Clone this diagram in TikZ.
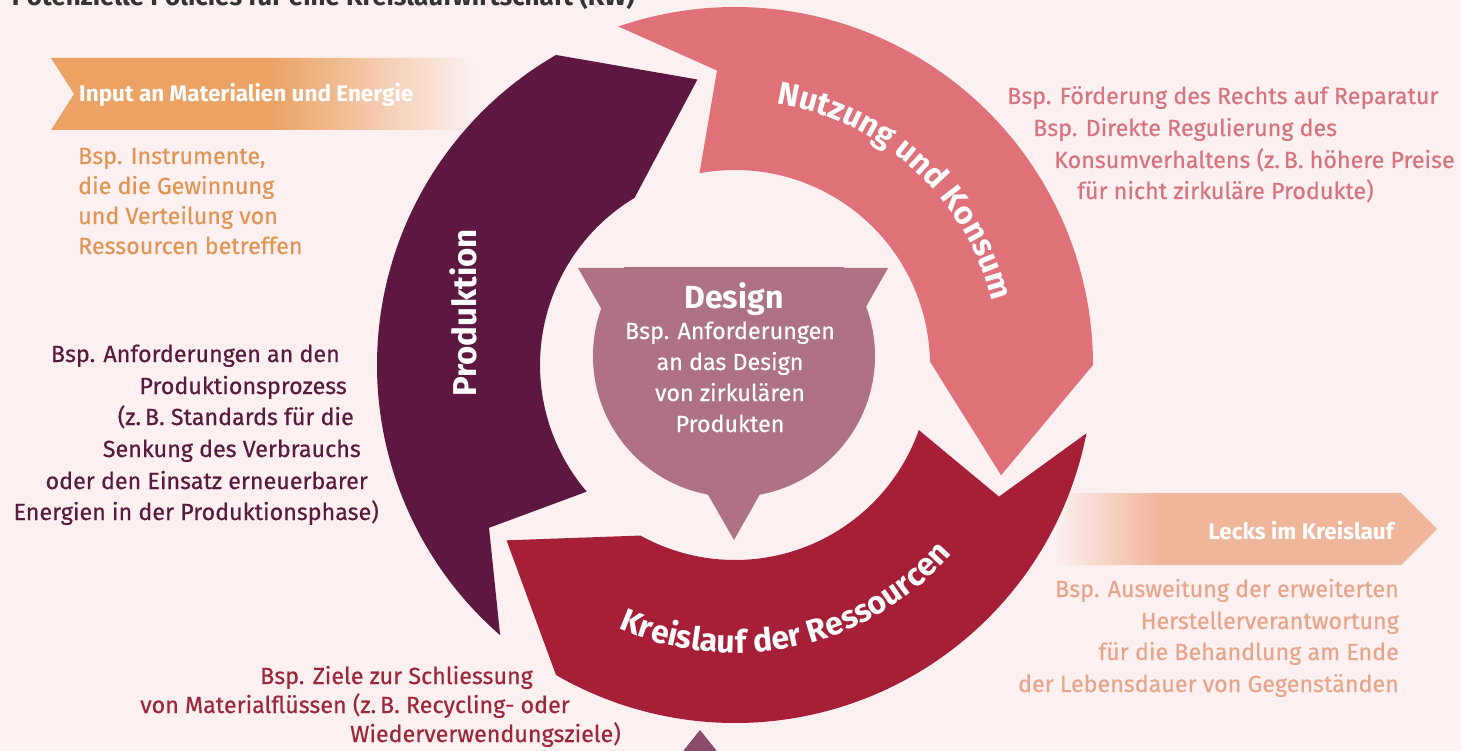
\documentclass[tikz,border=0pt]{standalone}
\usepackage{fontspec}
\setmainfont{Fira Sans}
\newfontfamily\bodyfam{Fira Sans}[FakeBold=0.4]
\usetikzlibrary{decorations.text}

\definecolor{bgpink}{RGB}{252,240,240}
\definecolor{prodcol}{RGB}{94,23,64}
\definecolor{nutzcol}{RGB}{224,113,120}
\definecolor{kreiscol}{RGB}{166,31,55}
\definecolor{designcol}{RGB}{174,114,132}
\definecolor{tricol}{RGB}{139,75,110}
\definecolor{inorange}{RGB}{235,162,99}
\definecolor{intext}{RGB}{226,149,80}
\definecolor{nutztext}{RGB}{217,115,126}
\definecolor{prodtext}{RGB}{90,26,62}
\definecolor{kreistext}{RGB}{160,38,58}
\definecolor{leckpeach}{RGB}{240,182,153}
\definecolor{lecktext}{RGB}{233,165,135}

\pgfdeclarehorizontalshading{inputshade}{100bp}{color(0bp)=(inorange); color(50bp)=(inorange); color(73bp)=(bgpink); color(100bp)=(bgpink)}
\pgfdeclarehorizontalshading{leckshade}{100bp}{color(0bp)=(bgpink); color(27bp)=(bgpink); color(40bp)=(leckpeach); color(100bp)=(leckpeach)}

\newcommand{\bodysize}{\bodyfam\fontsize{23.3}{31}\selectfont}
\newcommand{\ringsize}{\fontsize{32}{38}\selectfont\bfseries}

\tikzset{
  body/.style={font=\bodysize, inner sep=0pt},
  banner/.style={font=\fontsize{22.5}{26}\selectfont\bfseries, text=white, inner sep=0pt},
  ringlabel/.style={decorate, decoration={text along path, text align=center, text color=white}},
}

\begin{document}
\begin{tikzpicture}[x=1pt, y=1pt]
\useasboundingbox (0,0) rectangle (1461,-751);
\fill[bgpink] (0,0) rectangle (1461,-751);
\clip (0,0) rectangle (1461,-751);

% title, cut by the top edge
\node[font=\fontsize{26}{30}\selectfont\bfseries, text=black!80, anchor=base east, inner sep=0pt] (title) at (635,-6) {Potenzielle Policies für eine Kreislaufwirtschaft (KW)};

% banners
\shade[shading=inputshade] (51,-58) -- (476,-58) -- (491,-94) -- (476,-130) -- (51,-130) -- (74,-94) -- cycle;
\node[banner, anchor=west] (input) at (79,-95) {Input an Materialien und Energie};
\shade[shading=leckshade] (1040,-493) -- (1401,-493) -- (1437,-529) -- (1401,-565) -- (1040,-565) -- cycle;
\node[banner, anchor=east] (lecks) at (1394,-531) {Lecks im Kreislauf};

% ring of three arrows
\begin{scope}[shift={(735,-365)}]
\foreach \col/\en in {prodcol/120, nutzcol/0, kreiscol/-120}{
  \pgfmathsetmacro{\st}{\en+109}
  \fill[\col] (\st:358) arc[start angle=\st, end angle=\en, radius=358]
    -- ({\en-22.5}:288) -- ({\en+1}:195)
    arc[start angle=\en+1, end angle=\st-8.5, radius=195]
    -- ({\st-15.5}:295) -- cycle;
}
\path[ringlabel, decoration={text={|\ringsize|Nutzung und Konsum}}] (95:265) arc[start angle=95, end angle=0, radius=265];
\path[ringlabel, decoration={text={|\ringsize|Kreislauf der Ressourcen}}] (235:288) arc[start angle=235, end angle=330, radius=288];
\end{scope}
\node[font=\fontsize{33}{38}\selectfont\bfseries, text=white, rotate=90, inner sep=0pt] (prod) at (463,-313) {Produktion};

% design in the middle
\begin{scope}
\clip (560,-268) rectangle (910,-560);
\fill[designcol] (734,-356) circle[radius=141];
\fill[designcol] (578,-268) -- (888,-268) -- (734,-540) -- cycle;
\end{scope}
\node[font=\fontsize{32}{36}\selectfont\bfseries, text=white, anchor=base, inner sep=0pt] (design) at (734,-308) {Design};
\foreach \y/\t [count=\i] in {339/Bsp. Anforderungen, 370/an das Design, 401/von zirkulären, 432/Produkten}
  \node[body, text=white, anchor=base] (design\i) at (730,-\y) {\t};

% small triangle at the bottom
\fill[tricol] (700,-730) -- (732,-770) -- (668,-770) -- cycle;

% examples
\foreach \y/\t [count=\i] in {164/{Bsp. Instrumente,}, 194/die die Gewinnung, 224/und Verteilung von, 254/Ressourcen betreffen}
  \node[body, text=intext, anchor=base west] (input\i) at (78,-\y) {\t};
\foreach \y/\x/\t [count=\i] in {362/340/Bsp. Anforderungen an den, 394/347/Produktionsprozess, 425/354/(z.\,B. Standards für die, 457/361/Senkung des Verbrauchs, 489/368/oder den Einsatz erneuerbarer, 520/379/Energien in der Produktionsphase)}
  \node[body, text=prodtext, anchor=base east] (prod\i) at (\x,-\y) {\t};
\foreach \y/\x/\t [count=\i] in {684/533/Bsp. Ziele zur Schliessung, 713/570/von Materialflüssen (z.\,B. Recycling- oder, 742/621/Wiederverwendungsziele)}
  \node[body, text=kreistext, anchor=base east] (kreis\i) at (\x,-\y) {\t};
\foreach \y/\x/\t [count=\i] in {104/1007/Bsp. Förderung des Rechts auf Reparatur, 136/1033/Bsp. Direkte Regulierung des, 168/1054/Konsumverhaltens (z.\,B. höhere Preise, 199/1077/für nicht zirkuläre Produkte)}
  \node[body, text=nutztext, anchor=base west] (nutz\i) at (\x,-\y) {\t};
\foreach \y/\t [count=\i] in {597/Bsp. Ausweitung der erweiterten, 629/Herstellerverantwortung, 660/für die Behandlung am Ende, 692/der Lebensdauer von Gegenständen}
  \node[body, text=lecktext, anchor=base east] (lecks\i) at (1399,-\y) {\t};
\end{tikzpicture}
\end{document}
